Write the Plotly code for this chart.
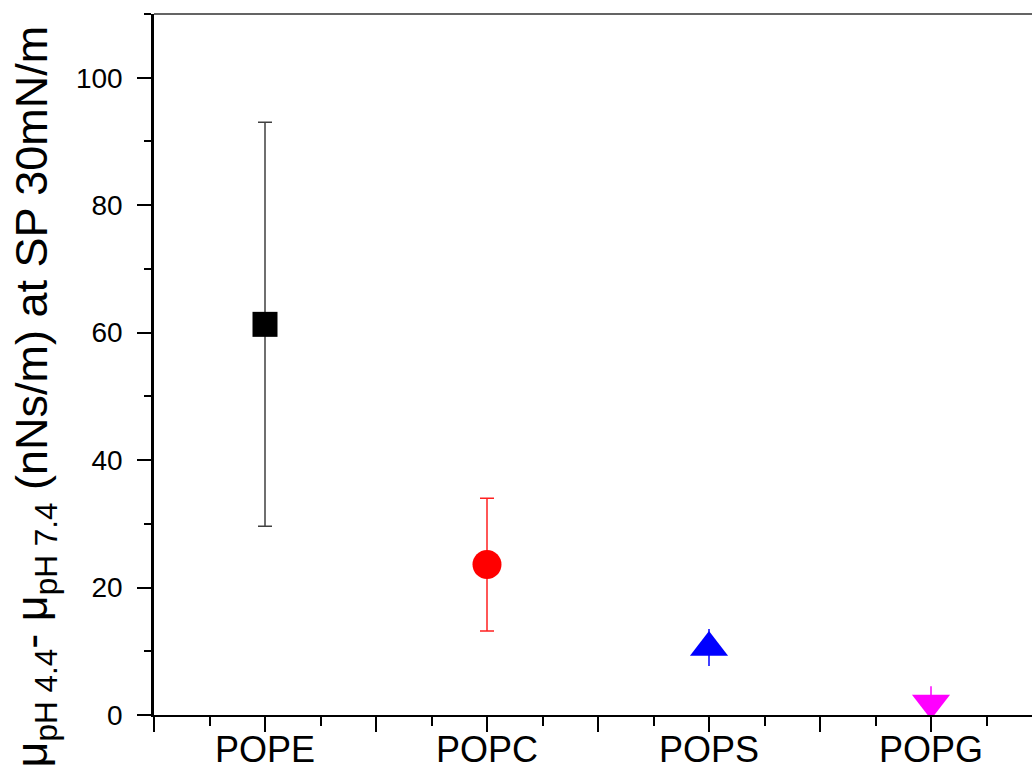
import plotly.graph_objects as go

# Lipid headgroups and the viscosity difference between pH 4.4 and pH 7.4
lipids = ["POPE", "POPC", "POPS", "POPG"]
delta_mu = [61.3, 23.6, 10.6, 1.9]
delta_err = [31.7, 10.4, 2.9, 2.6]

symbols = ["square", "circle", "triangle-up", "triangle-down"]
colors = ["#000000", "#ff0000", "#0000ff", "#ff00ff"]
err_colors = ["#404040", "#ff2020", "#0000ff", "#ff00ff"]
sizes = [25, 29, 33, 33]
cap_widths = [7, 7, 0, 0]

y_ticks = [0, 20, 40, 60, 80, 100]

FONT = "Liberation Sans, Arial, sans-serif"

positions = [i + 1 for i in range(len(lipids))]

fig = go.Figure()
for pos, name, val, err, sym, col, ecol, sz, cw in zip(
    positions, lipids, delta_mu, delta_err, symbols, colors, err_colors, sizes, cap_widths
):
    fig.add_trace(
        go.Scatter(
            x=[pos],
            y=[val],
            mode="markers",
            name=name,
            marker=dict(symbol=sym, color=col, size=sz, line=dict(width=0)),
            error_y=dict(type="data", array=[err], color=ecol, thickness=1.5, width=cw),
            showlegend=False,
        )
    )

# major ticks at categories and half-way points, minor ticks in between
major_vals = [0.5 + 0.5 * k for k in range(2 * len(lipids) + 1)]
major_text = [lipids[int(v) - 1] if float(v).is_integer() else "" for v in major_vals]
minor_vals = [0.75 + 0.5 * k for k in range(2 * len(lipids))]

fig.update_layout(
    width=1032,
    height=774,
    margin=dict(l=154, r=0, t=14, b=59),
    paper_bgcolor="white",
    plot_bgcolor="white",
    font=dict(family=FONT, color="black"),
    xaxis=dict(
        range=[0.5, 0.5 + 878 / 222],
        automargin=False,
        tickmode="array",
        tickvals=major_vals,
        ticktext=major_text,
        ticks="outside",
        ticklen=15,
        tickwidth=2,
        tickcolor="black",
        ticklabelstandoff=-13,
        tickfont=dict(size=36, family=FONT, color="black"),
        minor=dict(tickmode="array", tickvals=minor_vals, ticks="outside",
                   ticklen=9, tickwidth=2, tickcolor="black"),
        showline=True,
        linewidth=2,
        linecolor="black",
        showgrid=False,
        zeroline=False,
    ),
    yaxis=dict(
        range=[0, 110],
        automargin=False,
        tickmode="array",
        tickvals=y_ticks,
        ticks="outside",
        ticklen=14,
        tickwidth=2,
        tickcolor="black",
        ticklabelstandoff=9,
        tickfont=dict(size=28, family=FONT, color="black"),
        minor=dict(dtick=10, ticks="outside", ticklen=7, tickwidth=2, tickcolor="black"),
        showline=True,
        linewidth=2.5,
        linecolor="black",
        showgrid=False,
        zeroline=False,
    ),
    shapes=[
        dict(type="line", xref="paper", yref="paper", x0=0, x1=1, y0=1, y1=1,
             line=dict(color="#303030", width=1.3)),
    ],
    annotations=[
        dict(
            text="μ<sub>pH 4.4</sub>- μ<sub>pH 7.4</sub> (nNs/m) at SP 30mN/m",
            xref="paper", yref="paper",
            x=0, y=0.4536,
            xanchor="left", yanchor="middle",
            xshift=-150,
            textangle=-90,
            showarrow=False,
            font=dict(size=45, family=FONT, color="black"),
        )
    ],
)

fig.write_html("out.html")
